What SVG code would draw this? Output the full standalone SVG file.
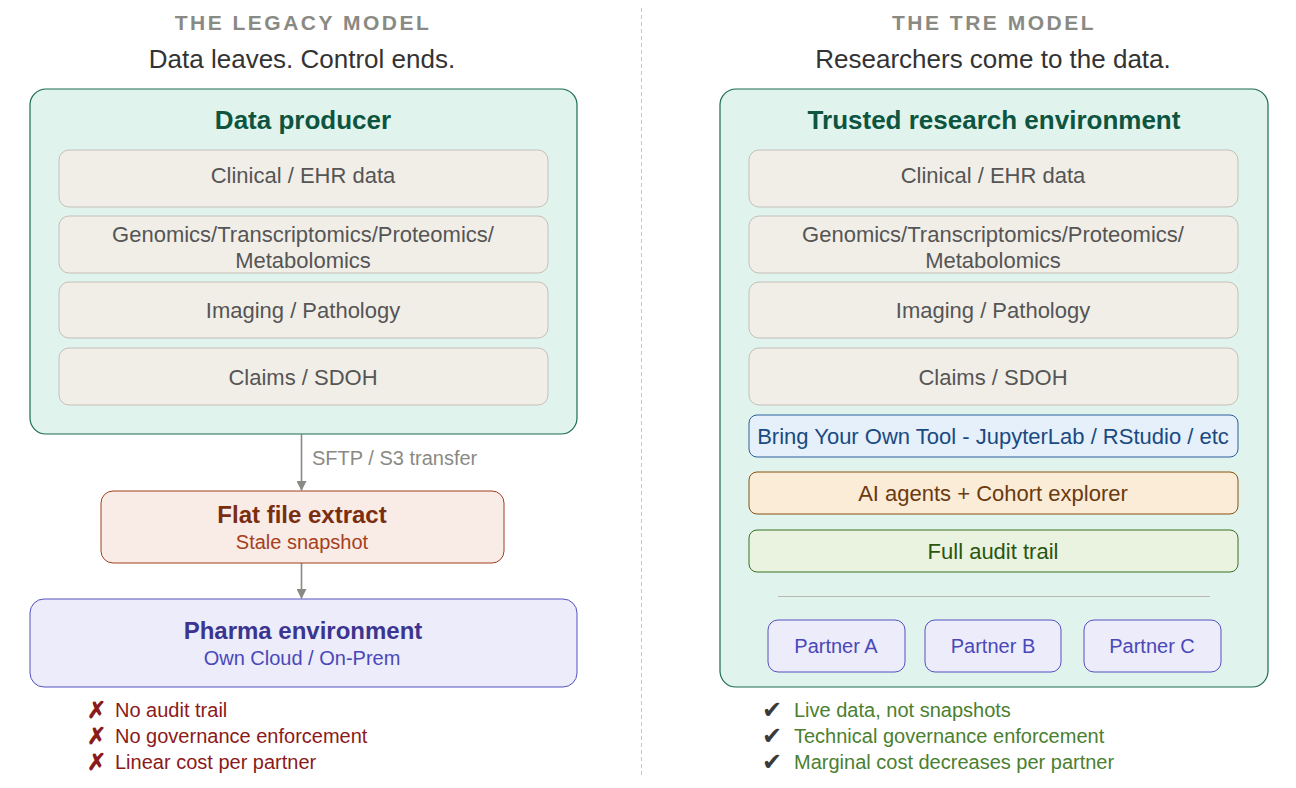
<svg xmlns="http://www.w3.org/2000/svg" width="1296" height="788" viewBox="0 0 1296 788">
<defs>
<style>
text{font-family:"Liberation Sans",Arial,sans-serif;text-anchor:middle}
.hdr{font-size:21px;font-weight:bold;fill:#8a8a84;letter-spacing:2.5px}
.sub{font-size:26px;fill:#333}
.main{fill:#e0f3ed;stroke:#1a6b50;stroke-width:1.2}
.mtitle{font-size:26px;font-weight:bold;fill:#0d5540}
.src{fill:#f1eee8;stroke:#c4c0b8;stroke-width:1}
.srct{font-size:22px;fill:#555}
.conn{stroke:#8a8a84;stroke-width:1.6;fill:none}
.lbl{font-size:20px;fill:#8a8a84;text-anchor:start}
.purple{fill:#ececfb;stroke:#5550c0;stroke-width:1}
.ptxt{font-size:20px;fill:#4a48b8}
.bad{font-size:20px;fill:#8b1a1a;text-anchor:start}
.badx{font-size:23px;font-weight:bold;fill:#8b1a1a;text-anchor:start}
.good{font-size:20px;fill:#4a8030;text-anchor:start}
.chk{font-size:24px;fill:#3a3a3a;text-anchor:start}
</style>
<marker id="arr" markerWidth="10" markerHeight="10" refX="9" refY="5" orient="auto" markerUnits="userSpaceOnUse">
<path d="M0,0 L10,5 L0,10 z" fill="#8a8a84"/>
</marker>
</defs>
<line x1="641.5" y1="8" x2="641.5" y2="776" stroke="#c8c8c4" stroke-width="1" stroke-dasharray="4,3"/>

<g id="legacy-header">
<text x="303" y="30" class="hdr">THE LEGACY MODEL</text>
<text x="302" y="68" class="sub">Data leaves. Control ends.</text>
</g>
<g id="tre-header">
<text x="994" y="30" class="hdr">THE TRE MODEL</text>
<text x="993" y="68" class="sub">Researchers come to the data.</text>
</g>

<g id="data-producer">
<rect x="30" y="89" width="547" height="345" rx="16" class="main"/>
<text x="303" y="129" class="mtitle">Data producer</text>
<rect x="59" y="150" width="489" height="57" rx="10" class="src"/>
<text x="303" y="183" class="srct">Clinical / EHR data</text>
<rect x="59" y="216" width="489" height="57" rx="10" class="src"/>
<text x="303" y="242" class="srct">Genomics/Transcriptomics/Proteomics/</text>
<text x="303" y="268" class="srct">Metabolomics</text>
<rect x="59" y="282" width="489" height="56" rx="10" class="src"/>
<text x="303" y="318" class="srct">Imaging / Pathology</text>
<rect x="59" y="348" width="489" height="57" rx="10" class="src"/>
<text x="303" y="385" class="srct">Claims / SDOH</text>
</g>

<g id="connectors">
<line x1="301.5" y1="434" x2="301.5" y2="490" class="conn" marker-end="url(#arr)"/>
<line x1="301.5" y1="563" x2="301.5" y2="598" class="conn" marker-end="url(#arr)"/>
</g>
<text x="312" y="465" class="lbl">SFTP / S3 transfer</text>

<g id="flat-file">
<rect x="101" y="491" width="403" height="72" rx="12" fill="#f9ebe5" stroke="#a0401f" stroke-width="1"/>
<text x="302" y="523" font-size="24" font-weight="bold" fill="#7a2e10">Flat file extract</text>
<text x="302" y="549" font-size="20" fill="#a54020">Stale snapshot</text>
</g>

<g id="pharma">
<rect x="30" y="599" width="547" height="88" rx="14" class="purple"/>
<text x="303" y="639" font-size="24" font-weight="bold" fill="#3b3590">Pharma environment</text>
<text x="302" y="665" font-size="20" fill="#4a48b8">Own Cloud / On-Prem</text>
</g>

<g id="legacy-cons">
<text x="87" y="718" class="badx">✗</text><text x="115" y="717" class="bad">No audit trail</text>
<text x="87" y="744" class="badx">✗</text><text x="115" y="743" class="bad">No governance enforcement</text>
<text x="87" y="770" class="badx">✗</text><text x="115" y="769" class="bad">Linear cost per partner</text>
</g>

<g id="tre">
<rect x="720" y="89" width="548" height="598" rx="16" class="main"/>
<text x="994" y="129" class="mtitle">Trusted research environment</text>
<rect x="749" y="150" width="489" height="57" rx="10" class="src"/>
<text x="993" y="183" class="srct">Clinical / EHR data</text>
<rect x="749" y="216" width="489" height="57" rx="10" class="src"/>
<text x="993" y="242" class="srct">Genomics/Transcriptomics/Proteomics/</text>
<text x="993" y="268" class="srct">Metabolomics</text>
<rect x="749" y="282" width="489" height="56" rx="10" class="src"/>
<text x="993" y="318" class="srct">Imaging / Pathology</text>
<rect x="749" y="348" width="489" height="57" rx="10" class="src"/>
<text x="993" y="385" class="srct">Claims / SDOH</text>
</g>
<g id="byot">
<rect x="749" y="415" width="489" height="42" rx="8" fill="#e5f0fb" stroke="#2a609a" stroke-width="1"/>
<text x="993" y="444" font-size="22" fill="#1a4a80">Bring Your Own Tool - JupyterLab / RStudio / etc</text>
</g>
<g id="ai-agents">
<rect x="749" y="472" width="489" height="42" rx="8" fill="#fbecd8" stroke="#8a5010" stroke-width="1"/>
<text x="993" y="501" font-size="22" fill="#6a3a10">AI agents + Cohort explorer</text>
</g>
<g id="audit">
<rect x="749" y="530" width="489" height="42" rx="8" fill="#e9f3df" stroke="#3a7020" stroke-width="1"/>
<text x="993" y="559" font-size="22" fill="#2a5510">Full audit trail</text>
</g>
<line x1="778" y1="596.5" x2="1210" y2="596.5" stroke="#b8b8b0" stroke-width="1"/>
<g id="partner-a">
<rect x="768" y="620" width="137" height="52" rx="10" class="purple"/>
<text x="836" y="653" class="ptxt">Partner A</text>
</g>
<g id="partner-b">
<rect x="925" y="620" width="136" height="52" rx="10" class="purple"/>
<text x="993" y="653" class="ptxt">Partner B</text>
</g>
<g id="partner-c">
<rect x="1084" y="620" width="137" height="52" rx="10" class="purple"/>
<text x="1152" y="653" class="ptxt">Partner C</text>
</g>

<g id="tre-pros">
<text x="762" y="718" class="chk">✔</text><text x="794" y="717" class="good">Live data, not snapshots</text>
<text x="762" y="744" class="chk">✔</text><text x="794" y="743" class="good">Technical governance enforcement</text>
<text x="762" y="770" class="chk">✔</text><text x="794" y="769" class="good">Marginal cost decreases per partner</text>
</g>
</svg>
